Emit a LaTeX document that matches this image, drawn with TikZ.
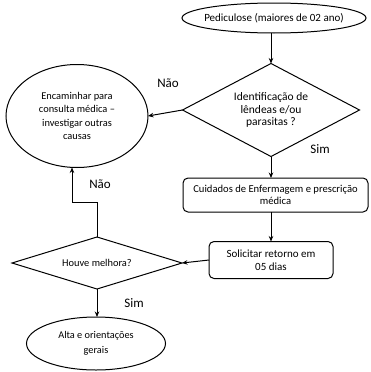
\documentclass[tikz,border=0pt]{standalone}
\usepackage{fontspec}
\setmainfont{Carlito}
\usetikzlibrary{shapes.geometric,arrows.meta}
\begin{document}
\begin{tikzpicture}[x=1pt,y=-1pt,
  every node/.style={inner sep=0pt, outer sep=0pt},
  conn/.style={line width=1pt, -{Stealth[length=5.5pt,width=4.5pt]}},
  ell/.style={draw, ellipse, line width=1pt, align=center},
  dia/.style={draw, diamond, line width=1pt, align=center},
  stepbox/.style={draw, rectangle, rounded corners=5pt, line width=1pt, align=center},
  lbl/.style={font=\fontsize{13}{15}\selectfont}
]
\useasboundingbox (0,0) rectangle (371,372);

\node[ell, minimum width=184pt, minimum height=30pt, font=\fontsize{11}{13}\selectfont]
  (top) at (274,18) {\makebox[100pt]{Pediculose (maiores de 02 ano)}};
\node[dia, minimum width=177pt, minimum height=93pt, aspect=1.9, font=\fontsize{11.5}{12.5}\selectfont]
  (d1) at (271,110) {Identificação de\\lêndeas e/ou\\parasitas ?};
\node[ell, minimum width=142pt, minimum height=103pt, font=\fontsize{10.4}{13.4}\selectfont]
  (enc) at (77,116) {Encaminhar para\\consulta médica –\\investigar outras\\causas};
\node[stepbox, minimum width=185pt, minimum height=34pt, font=\fontsize{10.6}{12.5}\selectfont]
  (b1) at (275.5,195) {Cuidados de Enfermagem e prescrição\\médica};
\node[stepbox, minimum width=124pt, minimum height=37pt, font=\fontsize{11}{13}\selectfont]
  (b2) at (271,260) {Solicitar retorno em\\05 dias};
\node[dia, minimum width=170pt, minimum height=52pt, aspect=3.3, font=\fontsize{10.4}{12}\selectfont]
  (d2) at (97,263) {Houve melhora?};
\node[ell, minimum width=139pt, minimum height=53pt, font=\fontsize{10.3}{15}\selectfont]
  (alta) at (96,343.5) {Alta e orientações\\gerais};

\node[lbl] (nao1) at (168,83) {Não};
\node[lbl] (sim1) at (320,149) {Sim};
\node[lbl] (nao2) at (100,184) {Não};
\node[lbl] (sim2) at (134,303) {Sim};

\coordinate (bend) at (72,202);

\draw[conn] (d1.north |- top.south) -- (d1.north);
\draw[conn] (d1.south) -- (b1.north -| d1.south);
\draw[conn] (d1.west) -- (enc.east);
\draw[conn] (b1.south -| b2.north) -- (b2.north);
\draw[conn] (b2.west) -- (d2.east);
\draw[conn] (d2.north) -- (d2.north |- bend) -- (bend) -- (bend |- enc.south);
\draw[conn] (d2.south) -- (alta.north -| d2.south);
\end{tikzpicture}
\end{document}
